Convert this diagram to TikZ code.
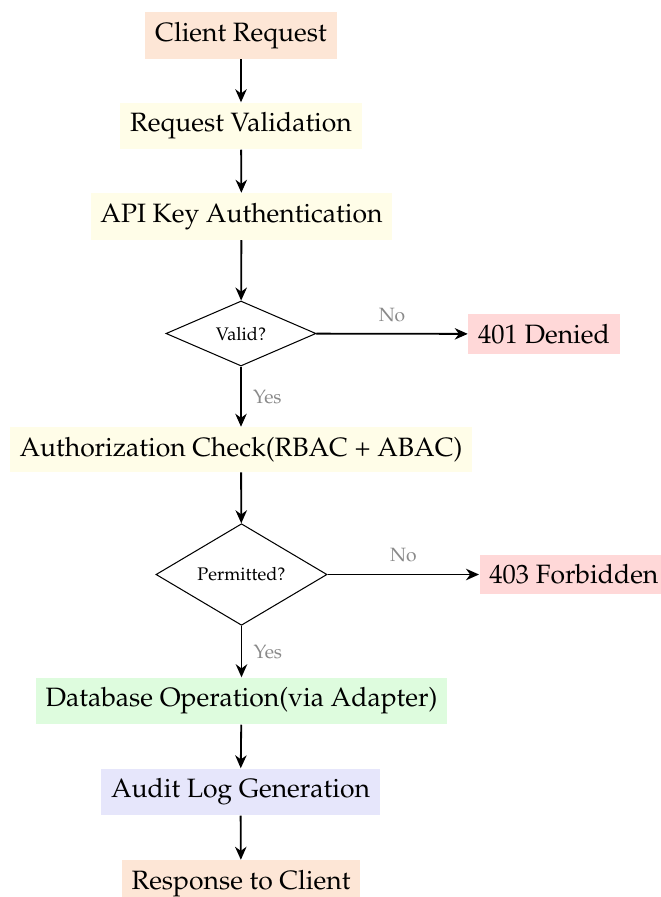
\documentclass[tikz,border=0pt]{standalone}
\usepackage[T1]{fontenc}
\usepackage{mathpazo}
\usetikzlibrary{shapes.geometric,arrows.meta}

\definecolor{peach}{HTML}{FDE6D6}
\definecolor{cream}{HTML}{FFFDE8}
\definecolor{rose}{HTML}{FFD8D8}
\definecolor{mint}{HTML}{DEFCDE}
\definecolor{lilac}{HTML}{E6E6FB}
\definecolor{labelgray}{HTML}{8A8A8A}

\tikzset{
  box/.style={rectangle, inner sep=3.8pt, font=\fontsize{10.2}{12}\selectfont},
  decision/.style={diamond, draw=black, inner sep=0pt, font=\fontsize{7}{8.5}\selectfont},
  flow/.style={-{Stealth[length=5pt, width=4.4pt, inset=1.6pt]}, line width=0.7pt},
  branch/.style={font=\fontsize{7.4}{8.5}\selectfont, text=labelgray}
}

\begin{document}
\begin{tikzpicture}[x=0.3846pt, y=-0.3846pt]
  \useasboundingbox (0,0) rectangle (661,897);
  \clip (0,0) rectangle (661,897);

  \node[box, fill=peach] (client) at (241,35.5) {Client Request};
  \node[box, fill=cream] (reqval) at (241,126) {Request Validation};
  \node[box, fill=cream] (apikey) at (241.5,216.5) {API Key Authentication};
  \node[decision, minimum width=57.7pt, minimum height=25pt] (isvalid) at (241,333.5) {Valid?};
  \node[box, fill=rose] (denied) at (544,334) {401 Denied};
  \node[box, fill=cream] (authz) at (241,449.5) {Authorization Check(RBAC + ABAC)};
  \node[decision, minimum width=65.8pt, minimum height=32.3pt] (isperm) at (241.5,574.5) {Permitted?};
  \node[box, fill=rose, anchor=west] (forbidden) at (479,574.5) {403 Forbidden};
  \node[box, fill=mint] (dbop) at (241.5,701) {Database Operation(via Adapter)};
  \node[box, fill=lilac] (audit) at (240.5,792) {Audit Log Generation};
  \node[box, fill=peach] (response) at (241,883.5) {Response to Client};

  \draw[flow] (client) -- (reqval);
  \draw[flow] (reqval) -- (apikey);
  \draw[flow] (apikey) -- (isvalid);
  \draw[flow] (isvalid) -- node[branch, above, yshift=1pt] {No} (denied);
  \draw[flow] (isvalid) -- node[branch, right, xshift=1pt] {Yes} (authz);
  \draw[flow] (authz) -- (isperm);
  \draw[flow] (isperm) -- node[branch, above, yshift=1pt] {No} (forbidden);
  \draw[flow] (isperm) -- node[branch, right, xshift=1pt] {Yes} (dbop);
  \draw[flow] (dbop) -- (audit);
  \draw[flow] (audit) -- (response);
\end{tikzpicture}
\end{document}
